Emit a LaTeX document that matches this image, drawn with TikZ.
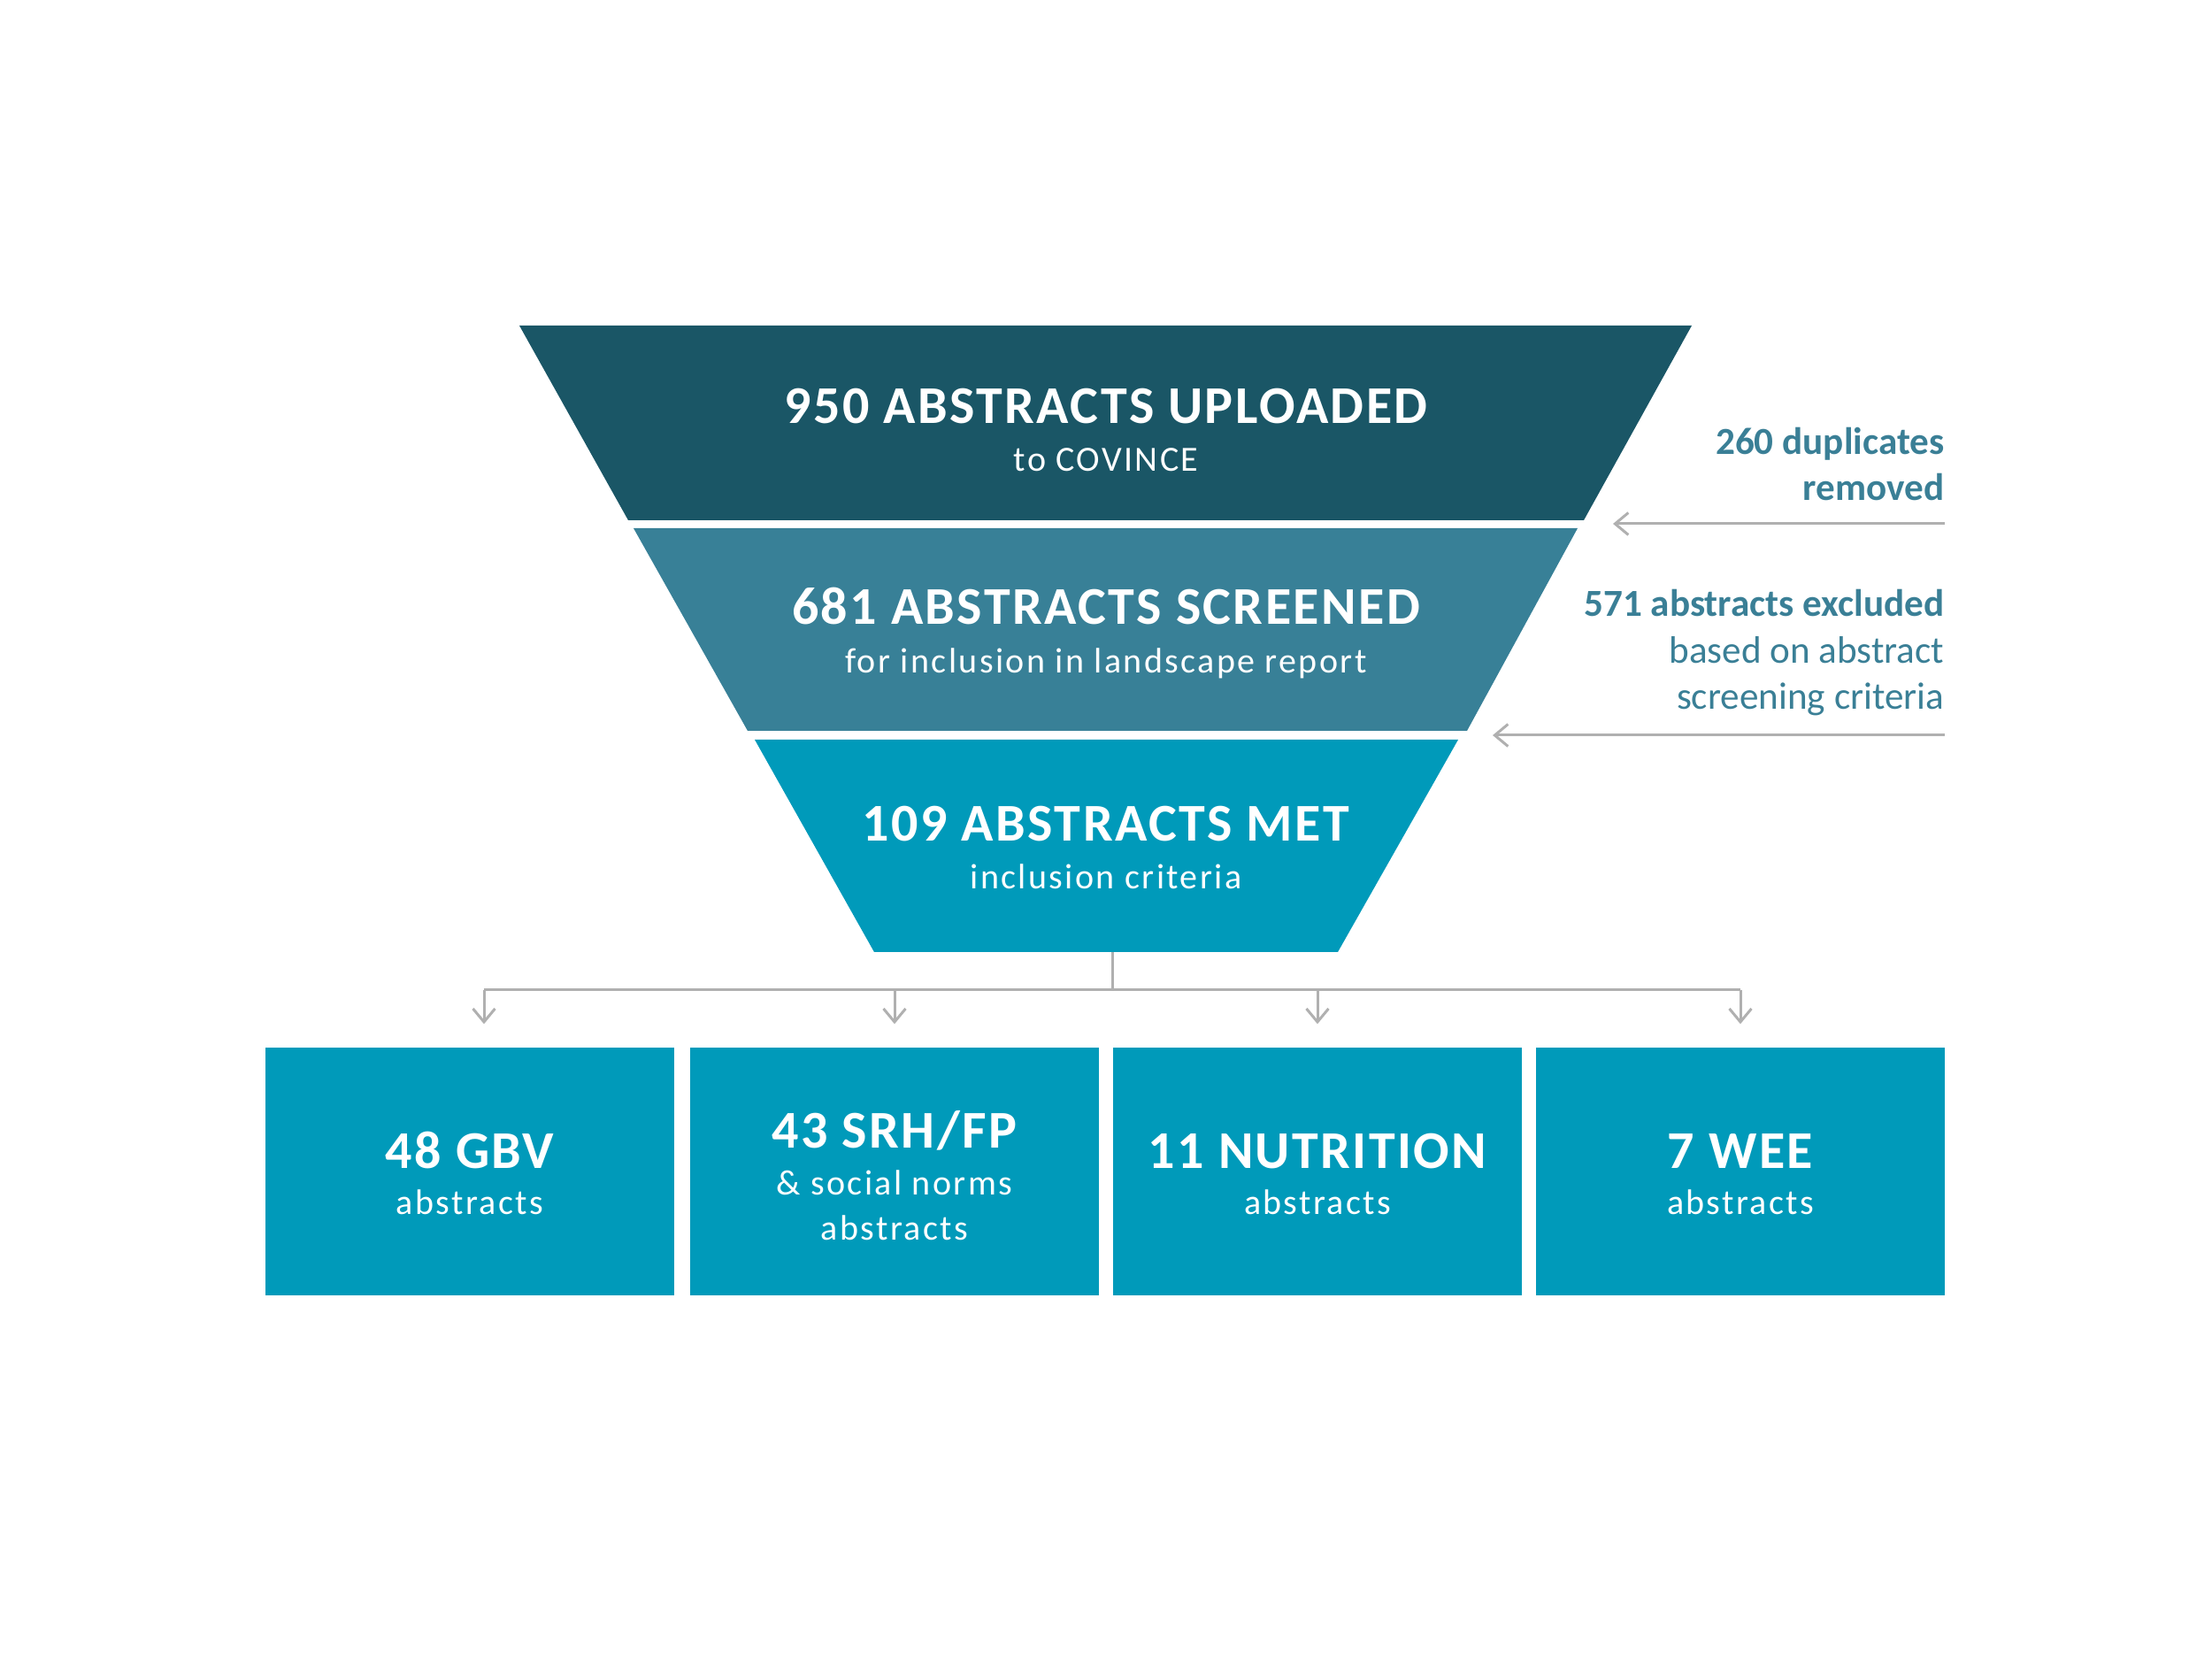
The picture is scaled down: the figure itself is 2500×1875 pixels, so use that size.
\documentclass[tikz,border=0pt]{standalone}
\usepackage{fontspec}
\setmainfont{Carlito}
\newfontfamily\titlefont[LetterSpace=4]{Carlito}
\newfontfamily\subfont[LetterSpace=6]{Carlito}
\usetikzlibrary{arrows.meta}
\definecolor{fdark}{HTML}{1A5666}
\definecolor{fmid}{HTML}{388097}
\definecolor{flight}{HTML}{009ABA}
\definecolor{sidetxt}{HTML}{3A7F96}
\definecolor{gline}{HTML}{B0B0B0}
\tikzset{
  funneltitle/.style={anchor=base, text=white, font=\titlefont\fontsize{18}{20}\selectfont\bfseries, inner sep=0pt},
  funnelsub/.style={anchor=base, text=white, font=\subfont\fontsize{12}{14}\selectfont, inner sep=0pt},
  sidebold/.style={anchor=base east, text=sidetxt, font=\fontsize{12.95}{15}\selectfont\bfseries, inner sep=0pt},
  sidereg/.style={anchor=base east, text=sidetxt, font=\fontsize{12.95}{15}\selectfont, inner sep=0pt},
  catbox/.style={fill=flight, draw=none, minimum width=138.6pt, minimum height=84pt, inner sep=0pt},
  connline/.style={draw=gline, line width=0.9pt},
  connarrow/.style={draw=gline, line width=0.9pt, -{Straight Barb[length=4.5pt,width=7.5pt]}},
}
\begin{document}
\begin{tikzpicture}[x=0.3pt,y=-0.3pt]
\useasboundingbox (0,0) rectangle (2500,1875);
% funnel layers
\coordinate (f1tl) at (587,368);  \coordinate (f1tr) at (1912,368);
\coordinate (f1br) at (1790,588); \coordinate (f1bl) at (710,588);
\coordinate (f2tl) at (716,597);  \coordinate (f2tr) at (1783,597);
\coordinate (f2br) at (1658,826); \coordinate (f2bl) at (845,826);
\coordinate (f3tl) at (853,836);  \coordinate (f3tr) at (1648,836);
\coordinate (f3br) at (1512,1076); \coordinate (f3bl) at (988,1076);
\fill[fdark] (f1tl) -- (f1tr) -- (f1br) -- (f1bl) -- cycle;
\fill[fmid] (f2tl) -- (f2tr) -- (f2br) -- (f2bl) -- cycle;
\fill[flight] (f3tl) -- (f3tr) -- (f3br) -- (f3bl) -- cycle;
\node[funneltitle] (t1) at (1250,479) {950 ABSTRACTS UPLOADED};
\node[funnelsub] (s1) at (1250,533) {to COVINCE};
\node[funneltitle] (t2) at (1250,706) {681 ABSTRACTS SCREENED};
\node[funnelsub] (s2) at (1250,761) {for inclusion in landscape report};
\node[funneltitle] (t3) at (1250,951) {109 ABSTRACTS MET};
\node[funnelsub] (s3) at (1250,1005) {inclusion criteria};
% side notes
\node[sidebold] (d1) at (2198,514) {260 duplicates};
\node[sidebold] (d2) at (2198,566) {removed};
\node[sidebold] (e1) at (2198,697) {571 abstracts excluded};
\node[sidereg] (e2) at (2198,750) {based on abstract};
\node[sidereg] (e3) at (2198,802) {screening criteria};
\coordinate (a1s) at (2198,592); \coordinate (a1e) at (1823,592);
\coordinate (a2s) at (2198,831); \coordinate (a2e) at (1687,831);
\draw[connarrow] (a1s) -- (a1e);
\draw[connarrow] (a2s) -- (a2e);
% category boxes
\node[catbox] (b1) at (531,1324) {};
\node[catbox] (b2) at (1011,1324) {};
\node[catbox] (b3) at (1489,1324) {};
\node[catbox] (b4) at (1967,1324) {};
\node[funneltitle] (b1t) at (531,1321) {48 GBV};
\node[funnelsub] (b1s) at (531,1373) {abstracts};
\node[funneltitle] (b2t) at (1011,1298) {43 SRH/FP};
\node[funnelsub] (b2s) at (1011,1351) {\& social norms};
\node[funnelsub] (b2u) at (1011,1402) {abstracts};
\node[funneltitle] (b3t) at (1489,1321) {11 NUTRITION};
\node[funnelsub] (b3s) at (1489,1373) {abstracts};
\node[funneltitle] (b4t) at (1967,1321) {7 WEE};
\node[funnelsub] (b4s) at (1967,1373) {abstracts};
% tree connectors
\coordinate (stem) at (1257,1076);
\coordinate (hub) at (1257,1119);
\coordinate (sp1) at (547,1119);
\coordinate (sp2) at (1011,1119);
\coordinate (sp3) at (1489,1119);
\coordinate (sp4) at (1967,1119);
\draw[connline] (stem) -- (hub);
\draw[connline] (sp1) -- (sp4);
\draw[connarrow, shorten >=7.8pt] (sp1) -- (sp1 |- b1.north);
\draw[connarrow, shorten >=7.8pt] (sp2) -- (b2.north);
\draw[connarrow, shorten >=7.8pt] (sp3) -- (b3.north);
\draw[connarrow, shorten >=7.8pt] (sp4) -- (b4.north);
\end{tikzpicture}
\end{document}
